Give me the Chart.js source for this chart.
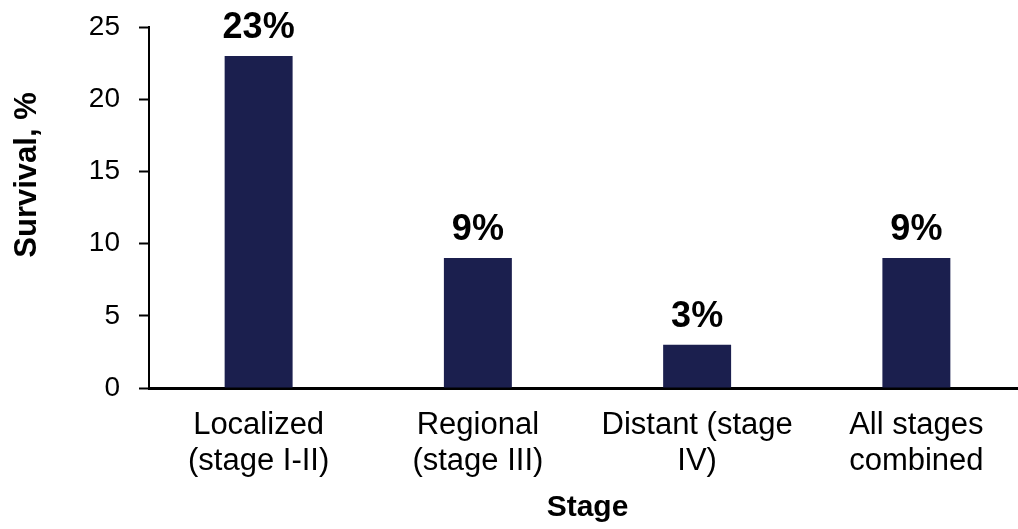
<!DOCTYPE html>
<html>
<head>
<meta charset="utf-8">
<script src="https://cdn.jsdelivr.net/npm/chart.js@4"></script>
<style>
  html, body { margin: 0; padding: 0; background: #fff; overflow: hidden; }
  #wrap { width: 1030px; height: 529px; }
</style>
</head>
<body>
<div id="wrap"><canvas id="survivalChart"></canvas></div>
<script>
// Chart data
const stages = [
    ['Localized', '(stage I-II)'],
    ['Regional', '(stage III)'],
    ['Distant (stage', 'IV)'],
    ['All stages', 'combined']
];
const survival = [23, 9, 3, 9];
const valueLabels = ['23%', '9%', '3%', '9%'];
const yTicks = [0, 5, 10, 15, 20, 25];

const FONT = "'Liberation Sans', Arial, sans-serif";

// Draws the % labels over each bar
const barLabels = {
    id: 'barLabels',
    afterDatasetsDraw(chart) {
        const ctx = chart.ctx;
        const meta = chart.getDatasetMeta(0);
        ctx.save();
        ctx.font = 'bold 36px ' + FONT;
        ctx.fillStyle = '#000';
        ctx.textAlign = 'center';
        ctx.textBaseline = 'alphabetic';
        meta.data.forEach((bar, i) => {
            ctx.fillText(valueLabels[i], bar.x, bar.y - 18);
        });
        ctx.restore();
    }
};

// Vertical axis title, placed like the original
const yTitle = {
    id: 'yTitle',
    afterDraw(chart) {
        const ctx = chart.ctx;
        ctx.save();
        ctx.translate(27, 175);
        ctx.rotate(-Math.PI / 2);
        ctx.font = 'bold 31px ' + FONT;
        ctx.fillStyle = '#000';
        ctx.textAlign = 'center';
        ctx.textBaseline = 'middle';
        ctx.fillText('Survival, %', 0, 0);
        ctx.restore();
    }
};

const ctx = document.getElementById('survivalChart').getContext('2d');
new Chart(ctx, {
    type: 'bar',
    data: {
        labels: stages,
        datasets: [{
            data: survival,
            backgroundColor: '#1b1f4e',
            barPercentage: 0.31,
            categoryPercentage: 1.0
        }]
    },
    options: {
        responsive: true,
        maintainAspectRatio: false,
        animation: false,
        layout: { padding: { top: 27, right: 4, left: 0, bottom: 0 } },
        plugins: {
            legend: { display: false },
            tooltip: { enabled: false }
        },
        scales: {
            x: {
                grid: { display: false },
                border: { display: true, color: '#000', width: 3 },
                ticks: {
                    color: '#000',
                    font: { family: FONT, size: 31, lineHeight: 1.15 },
                    padding: 12,
                    maxRotation: 0,
                    autoSkip: false
                },
                title: {
                    display: true,
                    text: 'Stage',
                    color: '#000',
                    font: { family: FONT, size: 30, weight: 'bold' },
                    padding: { top: 0, bottom: 3 }
                },
                afterFit(scale) {
                    scale.height = 141;
                    scale.paddingLeft = 0;
                    scale.paddingRight = 0;
                }
            },
            y: {
                min: 0,
                max: 25,
                afterBuildTicks(scale) {
                    scale.ticks = yTicks.map(v => ({ value: v }));
                },
                grid: {
                    display: true,
                    drawOnChartArea: false,
                    drawTicks: true,
                    tickLength: 10,
                    tickWidth: 2,
                    tickColor: '#000'
                },
                border: { display: true, color: '#000', width: 2 },
                ticks: {
                    color: '#000',
                    font: { family: FONT, size: 28 },
                    padding: 19
                },
                afterFit(scale) {
                    scale.width = 149;
                    scale.paddingTop = 0;
                    scale.paddingBottom = 0;
                }
            }
        }
    },
    plugins: [barLabels, yTitle]
});
</script>
</body>
</html>
